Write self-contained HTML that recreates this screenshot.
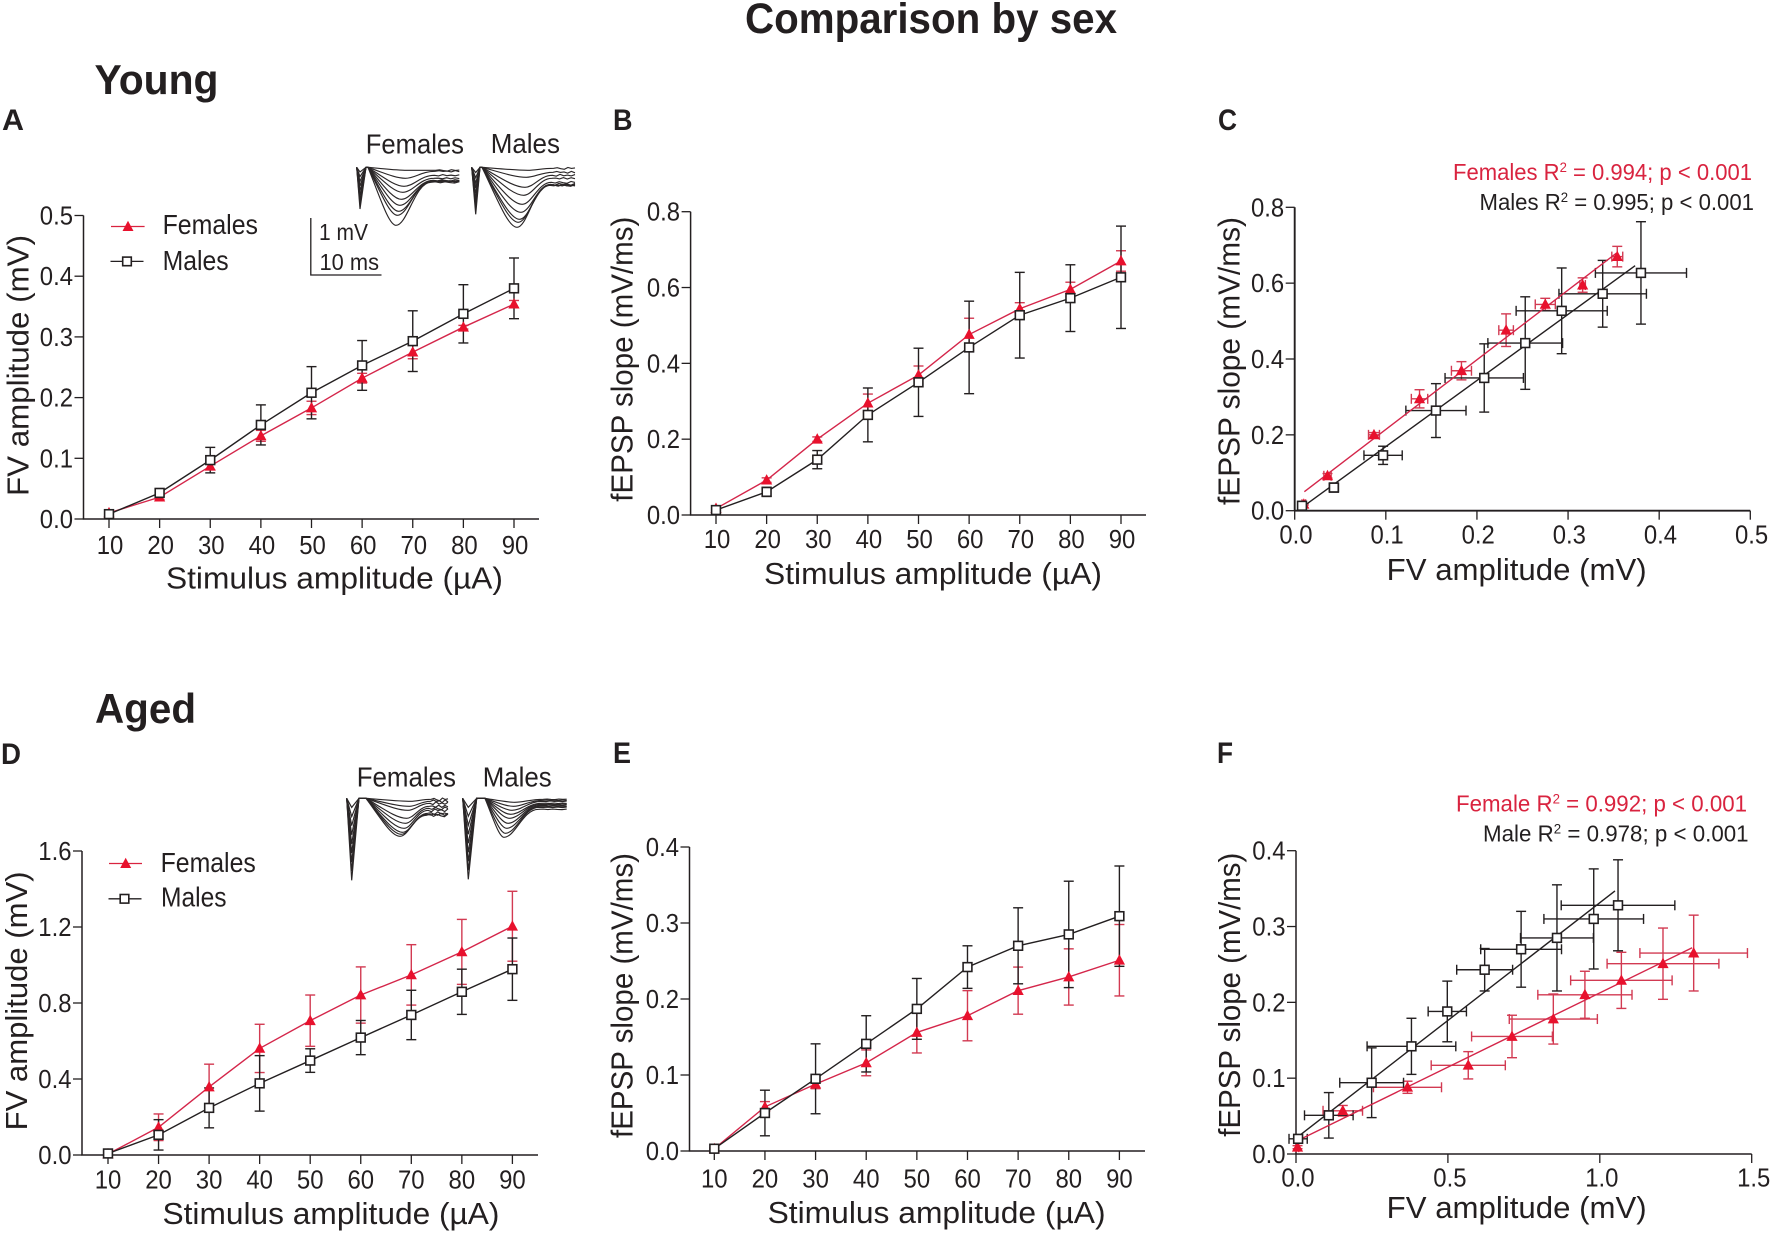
<!DOCTYPE html>
<html lang="en">
<head>
<meta charset="utf-8">
<title>Comparison by sex</title>
<style>
html,body{margin:0;padding:0;background:#fff;}
svg{display:block;}
text{font-family:"Liberation Sans",sans-serif;fill:#231f20;}
.b{font-weight:bold;}
.red{fill:#d9233f;}
</style>
</head>
<body>
<svg id="figure" width="1772" height="1234" viewBox="0 0 1772 1234" xmlns="http://www.w3.org/2000/svg">
<rect width="1772" height="1234" fill="#fff"/>
<text class="b" x="745" y="33" font-size="43" textLength="372" lengthAdjust="spacingAndGlyphs">Comparison by sex</text>
<text class="b" x="94.5" y="94" font-size="42" textLength="124" lengthAdjust="spacingAndGlyphs">Young</text>
<text class="b" x="95" y="723" font-size="42" textLength="101" lengthAdjust="spacingAndGlyphs">Aged</text>
<text class="b" x="2" y="130" font-size="30" textLength="22" lengthAdjust="spacingAndGlyphs">A</text>
<text class="b" x="613" y="130" font-size="30" textLength="19.5" lengthAdjust="spacingAndGlyphs">B</text>
<text class="b" x="1218" y="130" font-size="30" textLength="19" lengthAdjust="spacingAndGlyphs">C</text>
<text class="b" x="1" y="764" font-size="30" textLength="20" lengthAdjust="spacingAndGlyphs">D</text>
<text class="b" x="613" y="763" font-size="30" textLength="18" lengthAdjust="spacingAndGlyphs">E</text>
<text class="b" x="1217" y="763" font-size="30" textLength="16" lengthAdjust="spacingAndGlyphs">F</text>

<text x="166" y="588.6" font-size="30.5" textLength="337" lengthAdjust="spacingAndGlyphs">Stimulus amplitude (µA)</text>
<text x="764" y="584" font-size="30.5" textLength="338" lengthAdjust="spacingAndGlyphs">Stimulus amplitude (µA)</text>
<text x="1386.7" y="580" font-size="30.5" textLength="260" lengthAdjust="spacingAndGlyphs">FV amplitude (mV)</text>
<text x="162.5" y="1224" font-size="30.5" textLength="337" lengthAdjust="spacingAndGlyphs">Stimulus amplitude (µA)</text>
<text x="767.6" y="1223" font-size="30.5" textLength="338" lengthAdjust="spacingAndGlyphs">Stimulus amplitude (µA)</text>
<text x="1386.7" y="1218" font-size="30.5" textLength="260" lengthAdjust="spacingAndGlyphs">FV amplitude (mV)</text>

<text transform="translate(28.7,496) rotate(-90)" font-size="30.5" textLength="261" lengthAdjust="spacingAndGlyphs">FV amplitude (mV)</text>
<text transform="translate(632.5,501.7) rotate(-90)" font-size="30.5" textLength="285" lengthAdjust="spacingAndGlyphs">fEPSP slope (mV/ms)</text>
<text transform="translate(1239.4,505) rotate(-90)" font-size="30.5" textLength="288" lengthAdjust="spacingAndGlyphs">fEPSP slope (mV/ms)</text>
<text transform="translate(27,1130.4) rotate(-90)" font-size="30.5" textLength="259" lengthAdjust="spacingAndGlyphs">FV amplitude (mV)</text>
<text transform="translate(632.5,1138) rotate(-90)" font-size="30.5" textLength="285" lengthAdjust="spacingAndGlyphs">fEPSP slope (mV/ms)</text>
<text transform="translate(1240,1136.7) rotate(-90)" font-size="30.5" textLength="284" lengthAdjust="spacingAndGlyphs">fEPSP slope (mV/ms)</text>

<text x="162.6" y="234" font-size="27.5" textLength="95.4" lengthAdjust="spacingAndGlyphs">Females</text>
<text x="162.6" y="270" font-size="27.5" textLength="66" lengthAdjust="spacingAndGlyphs">Males</text>
<g><line x1="111" x2="144.6" y1="226.5" y2="226.5" stroke="#d9233f" stroke-width="1.3"/><polygon points="128,220.8 122.5,231 133.5,231" fill="#e8112d"/></g>
<g><line x1="110.5" x2="143.5" y1="261.4" y2="261.4" stroke="#231f20" stroke-width="1.3"/><rect x="122.7" y="257.1" width="8.6" height="8.6" fill="#fff" stroke="#231f20" stroke-width="1.6"/></g>
<text x="160.6" y="872" font-size="27.5" textLength="95.2" lengthAdjust="spacingAndGlyphs">Females</text>
<text x="161" y="906.7" font-size="27.5" textLength="65.5" lengthAdjust="spacingAndGlyphs">Males</text>
<g><line x1="109" x2="142" y1="863.5" y2="863.5" stroke="#d9233f" stroke-width="1.3"/><polygon points="125.7,857.8 120.2,868 131.2,868" fill="#e8112d"/></g>
<g><line x1="108.5" x2="141.5" y1="898.8" y2="898.8" stroke="#231f20" stroke-width="1.3"/><rect x="120.2" y="894.5" width="8.6" height="8.6" fill="#fff" stroke="#231f20" stroke-width="1.6"/></g>

<g><path d="M310.8 218V275H381.5" fill="none" stroke="#231f20" stroke-width="1.3"/></g>
<text x="319" y="240" font-size="23" textLength="49" lengthAdjust="spacingAndGlyphs">1 mV</text>
<text x="319.5" y="270" font-size="23" textLength="59.5" lengthAdjust="spacingAndGlyphs">10 ms</text>

<text x="365.7" y="153.3" font-size="27.5" textLength="98.3" lengthAdjust="spacingAndGlyphs">Females</text>
<text x="490.7" y="153" font-size="27.5" textLength="69.3" lengthAdjust="spacingAndGlyphs">Males</text>
<text x="356.7" y="786.7" font-size="27.5" textLength="99.3" lengthAdjust="spacingAndGlyphs">Females</text>
<text x="482.7" y="786.7" font-size="27.5" textLength="69" lengthAdjust="spacingAndGlyphs">Males</text>

<text class="red" x="1453" y="180" font-size="23.5" textLength="299" lengthAdjust="spacingAndGlyphs">Females R<tspan dy="-8" font-size="14">2</tspan><tspan dy="8"> = 0.994; p &lt; 0.001</tspan></text>
<text x="1479.5" y="210" font-size="23.5" textLength="274.5" lengthAdjust="spacingAndGlyphs">Males R<tspan dy="-8" font-size="14">2</tspan><tspan dy="8"> = 0.995; p &lt; 0.001</tspan></text>
<text class="red" x="1456" y="811.7" font-size="23.5" textLength="291" lengthAdjust="spacingAndGlyphs">Female R<tspan dy="-8" font-size="14">2</tspan><tspan dy="8"> = 0.992; p &lt; 0.001</tspan></text>
<text x="1483" y="841.7" font-size="23.5" textLength="265.6" lengthAdjust="spacingAndGlyphs">Male R<tspan dy="-8" font-size="14">2</tspan><tspan dy="8"> = 0.978; p &lt; 0.001</tspan></text>
</svg>
<script>
// ---------- shared categories ----------
const stimulusCategories = [10, 20, 30, 40, 50, 60, 70, 80, 90];

// ---------- tick labels ----------
const yTicksA = ['0.0', '0.1', '0.2', '0.3', '0.4', '0.5'];
const yTicksB = ['0.0', '0.2', '0.4', '0.6', '0.8'];
const yTicksC = ['0.0', '0.2', '0.4', '0.6', '0.8'];
const xTicksC = ['0.0', '0.1', '0.2', '0.3', '0.4', '0.5'];
const yTicksD = ['0.0', '0.4', '0.8', '1.2', '1.6'];
const yTicksE = ['0.0', '0.1', '0.2', '0.3', '0.4'];
const yTicksF = ['0.0', '0.1', '0.2', '0.3', '0.4'];
const xTicksF = ['0.0', '0.5', '1.0', '1.5'];

// ---------- young: FV amplitude (panel A, x of panel C) ----------
const youngFvFemales = [0.010, 0.036, 0.087, 0.137, 0.183, 0.232, 0.275, 0.316, 0.354];
const youngFvFemalesSem = [0.002, 0.004, 0.006, 0.009, 0.011, 0.008, 0.011, 0.003, 0.006];
const youngFvMales = [0.008, 0.043, 0.097, 0.155, 0.208, 0.253, 0.293, 0.338, 0.380];
const youngFvMalesSem = [0.003, 0.005, 0.021, 0.033, 0.043, 0.041, 0.050, 0.048, 0.050];

// ---------- young: fEPSP slope (panel B, y of panel C) ----------
const youngSlopeFemales = [0.017, 0.092, 0.200, 0.295, 0.369, 0.476, 0.544, 0.595, 0.670];
const youngSlopeFemalesSem = [0.002, 0.006, 0.006, 0.024, 0.024, 0.043, 0.016, 0.019, 0.027];
const youngSlopeMales = [0.013, 0.061, 0.146, 0.264, 0.350, 0.442, 0.527, 0.572, 0.627];
const youngSlopeMalesSem = [0.003, 0.012, 0.024, 0.071, 0.090, 0.122, 0.113, 0.088, 0.135];

// ---------- panel C regression lines ----------
const fitCFemalesX = [0.0106, 0.353];
const fitCFemalesY = [0.050, 0.679];
const fitCMalesX = [0.0065, 0.3736];
const fitCMalesY = [0.006, 0.646];

// ---------- aged: FV amplitude (panel D) ----------
const agedFvFemales = [0.005, 0.146, 0.358, 0.561, 0.707, 0.842, 0.948, 1.069, 1.204];
const agedFvFemalesSem = [0.005, 0.070, 0.120, 0.127, 0.135, 0.148, 0.159, 0.171, 0.184];
const agedFvMales = [0.008, 0.106, 0.248, 0.377, 0.497, 0.618, 0.737, 0.859, 0.978];
const agedFvMalesSem = [0.005, 0.080, 0.105, 0.146, 0.062, 0.090, 0.130, 0.119, 0.164];

// ---------- aged: fEPSP slope (panel E) ----------
const agedSlopeFemales = [0.003, 0.058, 0.088, 0.116, 0.156, 0.178, 0.211, 0.229, 0.251];
const agedSlopeFemalesSem = [0.001, 0.007, 0.006, 0.017, 0.027, 0.033, 0.031, 0.037, 0.047];
const agedSlopeMales = [0.003, 0.050, 0.095, 0.141, 0.187, 0.242, 0.270, 0.285, 0.309];
const agedSlopeMalesSem = [0.001, 0.030, 0.046, 0.037, 0.040, 0.028, 0.050, 0.070, 0.066];

// ---------- panel F (input-output, females) ----------
const fFemalesX = [0.005, 0.154, 0.367, 0.567, 0.711, 0.847, 0.951, 1.071, 1.208, 1.309];
const fFemalesXErr = [0.004, 0.065, 0.112, 0.122, 0.133, 0.145, 0.155, 0.167, 0.184, 0.177];
const fFemalesY = [0.009, 0.057, 0.088, 0.117, 0.155, 0.178, 0.210, 0.229, 0.251, 0.265];
const fFemalesYErr = [0.002, 0.007, 0.008, 0.018, 0.028, 0.033, 0.031, 0.037, 0.047, 0.050];

// ---------- panel F (input-output, males) ----------
const fMalesX = [0.007, 0.108, 0.249, 0.380, 0.498, 0.621, 0.741, 0.859, 0.980, 1.060];
const fMalesXErr = [0.030, 0.080, 0.105, 0.146, 0.063, 0.092, 0.133, 0.120, 0.164, 0.187];
const fMalesY = [0.020, 0.051, 0.094, 0.142, 0.188, 0.243, 0.270, 0.285, 0.310, 0.328];
const fMalesYErr = [0.002, 0.030, 0.046, 0.037, 0.040, 0.028, 0.050, 0.070, 0.066, 0.060];

// ---------- panel F regression lines ----------
const fitFFemalesX = [0.007, 1.304];
const fitFFemalesY = [0.018, 0.272];
const fitFMalesX = [0.007, 1.050];
const fitFMalesY = [0.023, 0.347];

// ---------- inset trace peak depths / tail offsets (read from the recordings) ----------
const traceYoungFemalesPeak = [3, 11, 19, 25, 32, 38, 44, 48, 58];
const traceYoungFemalesTail = [3, 4, 8, 11, 13, 14, 14, 14, 15];
const traceYoungMalesPeak = [3, 10, 20, 28, 37, 45, 52, 55, 60];
const traceYoungMalesTail = [1, 5, 8, 11, 15, 17, 18, 18, 18];
const traceAgedFemalesPeak = [3, 8, 12, 20, 25, 30, 34, 36, 38];
const traceAgedFemalesTail = [1, 3, 5, 8, 10, 12, 15, 16, 17];
const traceAgedMalesPeak = [4, 8, 12, 16, 20, 25, 30, 35, 39];
const traceAgedMalesTail = [1, 2, 3, 5, 6, 7, 8, 9, 11];
const traceNoise = [0.6, -0.5, 0.3, 0.8, -0.7, 0.1, -0.3, 0.7, -0.8, 0.4, -0.2, 0.5, -0.6];

const SVGNS = 'http://www.w3.org/2000/svg';
const INK = '#231f20';
const RED_LINE = '#d4264a';
const RED_ERR = '#d23a52';
const RED_FILL = '#e8112d';
const root = document.getElementById('figure');

function linear(d0, d1, r0, r1) {
  return function (v) { return r0 + (v - d0) / (d1 - d0) * (r1 - r0); };
}

function seg(parent, x1, y1, x2, y2, color, width, name) {
  const el = document.createElementNS(SVGNS, 'line');
  el.setAttribute('x1', x1);
  el.setAttribute('y1', y1);
  el.setAttribute('x2', x2);
  el.setAttribute('y2', y2);
  el.setAttribute('stroke', color);
  el.setAttribute('stroke-width', width);
  
  
  parent.appendChild(el);
  return el;
}

function label(parent, x, y, value, anchor, name) {
  const el = document.createElementNS(SVGNS, 'text');
  const str = String(value);
  const digits = str.replace(/[^0-9]/g, '').length;
  const dots = str.length - digits;
  el.setAttribute('x', x);
  el.setAttribute('y', y);
  el.setAttribute('font-size', '26');
  el.setAttribute('text-anchor', anchor);
  el.setAttribute('textLength', digits * 13.3 + dots * 6.6);
  el.setAttribute('lengthAdjust', 'spacingAndGlyphs');
  el.textContent = str;
  
  
  parent.appendChild(el);
}

function panelGroup(name) {
  const g = document.createElementNS(SVGNS, 'g');
  
  
  root.appendChild(g);
  return g;
}

function axes(g, p, sx, sy, xTicks, yTicks) {
  const w = p.axisWidth || 1.5;
  seg(g, p.axisX, p.bottom, p.axisX, p.top, INK, w, 'y-axis');
  seg(g, p.axisX - 0.7, p.bottom, p.xEnd, p.bottom, INK, w, 'x-axis');
  yTicks.forEach(function (t) {
    const y = sy(Number(t));
    seg(g, p.axisX - 9, y, p.axisX, y, INK, 1.3, 'y-tick');
    label(g, p.axisX - 10.5, y + 9, t, 'end', 'y-tick-label');
  });
  xTicks.forEach(function (t) {
    const x = sx(Number(t));
    seg(g, x, p.bottom, x, p.bottom + 9, INK, 1.3, 'x-tick');
    label(g, x + (p.labelShift || 0), p.tickBase, t, 'middle', 'x-tick-label');
  });
}

function vErr(g, x, y0, y1, color, name) {
  seg(g, x, y0, x, y1, color, 1.4, name);
  seg(g, x - 5, y0, x + 5, y0, color, 1.4, name + '-cap');
  seg(g, x - 5, y1, x + 5, y1, color, 1.4, name + '-cap');
}

function hErr(g, y, x0, x1, color, name) {
  seg(g, x0, y, x1, y, color, 1.4, name);
  seg(g, x0, y - 5, x0, y + 5, color, 1.4, name + '-cap');
  seg(g, x1, y - 5, x1, y + 5, color, 1.4, name + '-cap');
}

function triangle(g, x, y) {
  const el = document.createElementNS(SVGNS, 'polygon');
  el.setAttribute('points', x + ',' + (y - 6) + ' ' + (x - 5.6) + ',' + (y + 4.4) + ' ' + (x + 5.6) + ',' + (y + 4.4));
  el.setAttribute('fill', RED_FILL);
  
  
  g.appendChild(el);
}

function square(g, x, y) {
  const el = document.createElementNS(SVGNS, 'rect');
  el.setAttribute('x', x - 4.4);
  el.setAttribute('y', y - 4.4);
  el.setAttribute('width', 8.8);
  el.setAttribute('height', 8.8);
  el.setAttribute('fill', '#fff');
  el.setAttribute('stroke', INK);
  el.setAttribute('stroke-width', 1.6);
  
  
  g.appendChild(el);
}

function connect(g, xs, ys, color, name) {
  const el = document.createElementNS(SVGNS, 'polyline');
  el.setAttribute('points', xs.map(function (x, i) { return x + ',' + ys[i]; }).join(' '));
  el.setAttribute('fill', 'none');
  el.setAttribute('stroke', color);
  el.setAttribute('stroke-width', 1.4);
  
  
  g.appendChild(el);
}

function categoryPanel(name, p, yTicks, yMax, fem, femSem, male, maleSem) {
  const g = panelGroup(name);
  const sx = linear(10, 90, p.x10, p.x90);
  const sy = linear(0, yMax, p.bottom, p.top);
  axes(g, p, sx, sy, stimulusCategories, yTicks);
  stimulusCategories.forEach(function (c, i) {
    vErr(g, sx(c), sy(fem[i] + femSem[i]), sy(fem[i] - femSem[i]), RED_ERR, 'female-error-bar');
  });
  stimulusCategories.forEach(function (c, i) {
    vErr(g, sx(c), sy(male[i] + maleSem[i]), sy(male[i] - maleSem[i]), INK, 'male-error-bar');
  });
  connect(g, stimulusCategories.map(sx), fem.map(sy), RED_LINE, 'female-line');
  stimulusCategories.forEach(function (c, i) { triangle(g, sx(c), sy(fem[i])); });
  connect(g, stimulusCategories.map(sx), male.map(sy), INK, 'male-line');
  stimulusCategories.forEach(function (c, i) { square(g, sx(c), sy(male[i])); });
}

function scatterPanel(name, p, xTicks, yTicks, xMax, yMax, s) {
  const g = panelGroup(name);
  const sx = linear(0, xMax, p.axisX, p.xEnd);
  const sy = linear(0, yMax, p.bottom, p.top);
  axes(g, p, sx, sy, xTicks, yTicks);
  s.fX.forEach(function (x, i) {
    vErr(g, sx(x), sy(s.fY[i] + s.fYE[i]), sy(s.fY[i] - s.fYE[i]), RED_ERR, 'female-y-error-bar');
    hErr(g, sy(s.fY[i]), sx(x - s.fXE[i]), sx(x + s.fXE[i]), RED_ERR, 'female-x-error-bar');
  });
  s.mX.forEach(function (x, i) {
    vErr(g, sx(x), sy(s.mY[i] + s.mYE[i]), sy(s.mY[i] - s.mYE[i]), INK, 'male-y-error-bar');
    hErr(g, sy(s.mY[i]), sx(x - s.mXE[i]), sx(x + s.mXE[i]), INK, 'male-x-error-bar');
  });
  seg(g, sx(s.fitFX[0]), sy(s.fitFY[0]), sx(s.fitFX[1]), sy(s.fitFY[1]), RED_LINE, 1.4, 'female-fit-line');
  seg(g, sx(s.fitMX[0]), sy(s.fitMY[0]), sx(s.fitMX[1]), sy(s.fitMY[1]), INK, 1.4, 'male-fit-line');
  s.fX.forEach(function (x, i) { triangle(g, sx(x), sy(s.fY[i])); });
  s.mX.forEach(function (x, i) { square(g, sx(x), sy(s.mY[i])); });
}

function traceInset(name, t, peaks, tails) {
  const g = panelGroup(name);
  peaks.forEach(function (d, i) {
    const frac = (i + 1) / peaks.length;
    const minX = t.minX + (1 - frac) * 12;
    const yp = t.y0 + d;
    const ye = t.y0 + tails[i];
    const dIn = minX - t.startX;
    const dOut = t.endX - minX;
    const tailX = minX + dOut * 0.55;
    let path =
      'M' + t.x0 + ' ' + t.y0 +
      'L' + t.spikeX + ' ' + (t.y0 + t.spike * frac) +
      'L' + t.recX + ' ' + t.y0 +
      'L' + t.startX + ' ' + t.y0 +
      'C' + (t.startX + dIn * 0.45) + ' ' + (t.y0 + d * 0.55) + ' ' + (minX - dIn * 0.25) + ' ' + yp + ' ' + minX + ' ' + yp +
      'C' + (minX + dOut * 0.18) + ' ' + yp + ' ' + (minX + dOut * 0.3) + ' ' + ye + ' ' + tailX + ' ' + ye;
    for (let k = 1; k <= 6; k++) {
      const wobble = traceNoise[(i * 3 + k) % traceNoise.length] * t.noise;
      path += 'L' + (tailX + (t.endX - tailX) * k / 6) + ' ' + (ye + wobble);
    }
    const el = document.createElementNS(SVGNS, 'path');
    el.setAttribute('d', path);
    el.setAttribute('fill', 'none');
    el.setAttribute('stroke', '#2a2627');
    el.setAttribute('stroke-width', 1.15);
    
    
    g.appendChild(el);
  });
}

categoryPanel('panel-a-fv-amplitude-young',
  { axisX: 83.5, bottom: 519, top: 215.5, x10: 109, x90: 514, xEnd: 539, tickBase: 553.8, labelShift: 1 },
  yTicksA, 0.5, youngFvFemales, youngFvFemalesSem, youngFvMales, youngFvMalesSem);

categoryPanel('panel-b-fepsp-slope-young',
  { axisX: 690.6, bottom: 515, top: 211.7, x10: 716, x90: 1121, xEnd: 1146, tickBase: 548, labelShift: 1 },
  yTicksB, 0.8, youngSlopeFemales, youngSlopeFemalesSem, youngSlopeMales, youngSlopeMalesSem);

scatterPanel('panel-c-input-output-young',
  { axisX: 1294.7, bottom: 510.7, top: 207.3, xEnd: 1750.3, tickBase: 543.3, axisWidth: 1.9, labelShift: 1.3 },
  xTicksC, yTicksC, 0.5, 0.8,
  { fX: youngFvFemales, fXE: youngFvFemalesSem, fY: youngSlopeFemales, fYE: youngSlopeFemalesSem,
    mX: youngFvMales, mXE: youngFvMalesSem, mY: youngSlopeMales, mYE: youngSlopeMalesSem,
    fitFX: fitCFemalesX, fitFY: fitCFemalesY, fitMX: fitCMalesX, fitMY: fitCMalesY });

categoryPanel('panel-d-fv-amplitude-aged',
  { axisX: 82, bottom: 1155, top: 851, x10: 108, x90: 512.4, xEnd: 538, tickBase: 1188.7, labelShift: 0 },
  yTicksD, 1.6, agedFvFemales, agedFvFemalesSem, agedFvMales, agedFvMalesSem);

categoryPanel('panel-e-fepsp-slope-aged',
  { axisX: 689.5, bottom: 1151, top: 847, x10: 714.3, x90: 1119.4, xEnd: 1145, tickBase: 1187.7, labelShift: 0 },
  yTicksE, 0.4, agedSlopeFemales, agedSlopeFemalesSem, agedSlopeMales, agedSlopeMalesSem);

scatterPanel('panel-f-input-output-aged',
  { axisX: 1296, bottom: 1154, top: 850.7, xEnd: 1751.7, tickBase: 1186.7, labelShift: 2 },
  xTicksF, yTicksF, 1.5, 0.4,
  { fX: fFemalesX, fXE: fFemalesXErr, fY: fFemalesY, fYE: fFemalesYErr,
    mX: fMalesX, mXE: fMalesXErr, mY: fMalesY, mYE: fMalesYErr,
    fitFX: fitFFemalesX, fitFY: fitFFemalesY, fitMX: fitFMalesX, fitMY: fitFMalesY });

traceInset('trace-inset-young-females',
  { x0: 356.7, y0: 167.3, spikeX: 360, spike: 41.7, recX: 366, startX: 368, minX: 396, endX: 459.3, noise: 0.9 },
  traceYoungFemalesPeak, traceYoungFemalesTail);
traceInset('trace-inset-young-males',
  { x0: 471.7, y0: 167.3, spikeX: 475.7, spike: 47, recX: 480, startX: 482, minX: 517, endX: 575, noise: 1.2 },
  traceYoungMalesPeak, traceYoungMalesTail);
traceInset('trace-inset-aged-females',
  { x0: 346.7, y0: 798.3, spikeX: 351.7, spike: 82, recX: 359, startX: 366, minX: 400, endX: 448, noise: 1.8 },
  traceAgedFemalesPeak, traceAgedFemalesTail);
traceInset('trace-inset-aged-males',
  { x0: 462.7, y0: 798.3, spikeX: 468.3, spike: 81, recX: 476.7, startX: 485, minX: 504, endX: 566.7, noise: 0.4 },
  traceAgedMalesPeak, traceAgedMalesTail);
</script>
</body>
</html>
